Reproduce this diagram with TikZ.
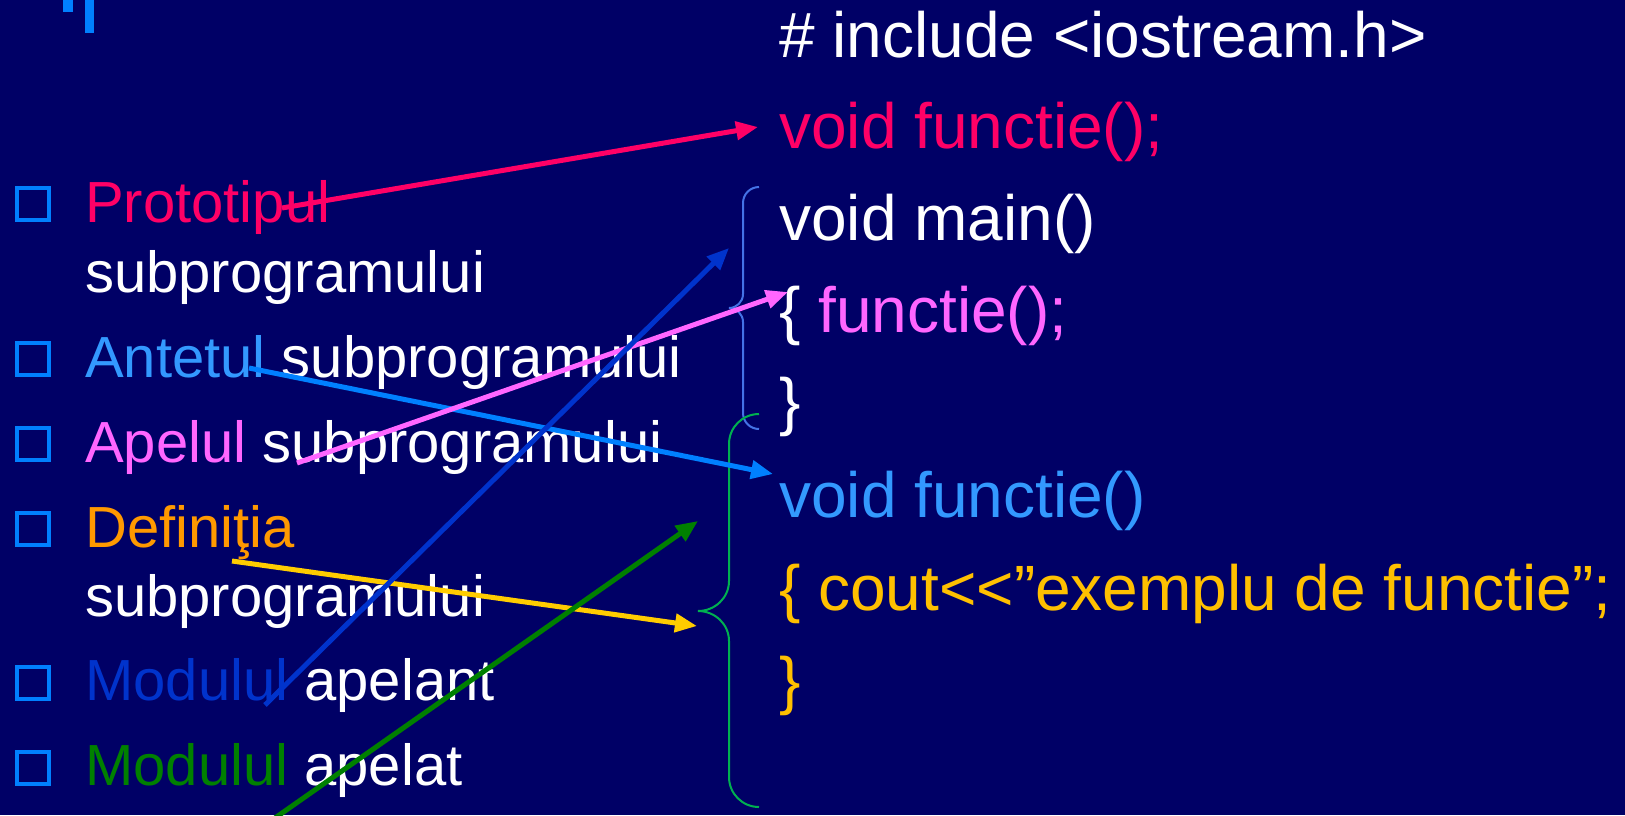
\documentclass[tikz,border=0pt]{standalone}
\usepackage{fontspec}
\setmainfont{Liberation Sans}[Ligatures=TeXOff]
\usetikzlibrary{arrows.meta}
\definecolor{slidebg}{RGB}{0, 0, 102}
\definecolor{bulletblue}{RGB}{0, 128, 255}
\definecolor{protored}{RGB}{255, 0, 102}
\definecolor{antetblue}{RGB}{51, 153, 255}
\definecolor{apelpink}{RGB}{255, 102, 255}
\definecolor{deforange}{RGB}{255, 153, 0}
\definecolor{codegold}{RGB}{255, 192, 0}
\definecolor{arrowyellow}{RGB}{255, 204, 0}
\definecolor{apelantblue}{RGB}{0, 51, 204}
\definecolor{apelatgreen}{RGB}{0, 128, 0}
\definecolor{bracegreen}{RGB}{0, 176, 80}
\definecolor{braceblue}{RGB}{68, 114, 230}

\begin{document}
\begin{tikzpicture}[
  x=1pt, y=-1pt,
  item/.style={anchor=base west, inner sep=0pt, text=white, font=\fontsize{58}{62}\selectfont},
  code/.style={anchor=base west, inner sep=0pt, text=white, font=\fontsize{64}{68}\selectfont},
  bul/.style={draw=bulletblue, line width=3.5pt, minimum size=32pt, inner sep=0pt},
  link/.style={line width=5pt, -{Triangle[length=22pt, width=18pt]}},
  brace/.style={line width=2pt}
]
  % background and slide mark
  \useasboundingbox[fill=slidebg] (0,0) rectangle (1625,815);
  \fill[bulletblue] (63,0) rectangle (73,12);
  \fill[bulletblue] (85,0) rectangle (94,33);

  % list on the left
  \node[bul] (b1) at (33,204) {};
  \node[bul] (b2) at (33,359) {};
  \node[bul] (b3) at (33,444) {};
  \node[bul] (b4) at (33,529) {};
  \node[bul] (b5) at (33,683) {};
  \node[bul] (b6) at (33,768) {};
  \node[item] (proto) at (85,222) {\color{protored}Prototipul};
  \node[item] (proto2) at (85,292) {subprogramului};
  \node[item] (antet) at (85,377) {{\color{antetblue}Antetul} subprogramului};
  \node[item] (apel) at (85,462) {{\color{apelpink}Apelul} subprogramului};
  \node[item] (def) at (85,547) {\color{deforange}Definiţia};
  \node[item] (def2) at (85,616) {subprogramului};
  \node[item] (apelant) at (85,700) {{\color{apelantblue}Modulul} apelant};
  \node[item] (apelat) at (85,785) {{\color{apelatgreen}Modulul} apelat};

  % program on the right
  \node[code] (inc) at (779,57) {\# include <iostream.h>};
  \node[code, text=protored] (proto-c) at (779,148) {void functie();};
  \node[code] (main) at (779,240) {void main()};
  \node[code] (call) at (779,332) {\{ \color{apelpink}functie();};
  \node[code] (endmain) at (779,423) {\}};
  \node[code, text=antetblue] (head) at (779,517) {void functie()};
  \node[code, text=codegold] (body) at (779,610) {\{ cout<<”exemplu de functie”;};
  \node[code, text=codegold] (endfn) at (779,702) {\}};

  % braces
  \draw[brace, braceblue] (759,187) to[out=180,in=90] (743,203) -- (743,294)
    to[out=-90,in=0] (729,308) to[out=0,in=90] (743,322) -- (743,413)
    to[out=-90,in=180] (759,429);
  \draw[brace, bracegreen] (759,414) to[out=180,in=90] (729,444) -- (729,581)
    to[out=-90,in=0] (698,611) to[out=0,in=90] (729,641) -- (729,777)
    to[out=-90,in=180] (759,807);

  % arrow ends
  \coordinate (protoS) at (282,208);
  \coordinate (protoE) at (758,127);
  \coordinate (antetS) at (249,368);
  \coordinate (antetE) at (773,474);
  \coordinate (apelS) at (297,463);
  \coordinate (apelE) at (788,292);
  \coordinate (defS) at (232,561);
  \coordinate (defE) at (697,626);
  \coordinate (apelantS) at (265,705);
  \coordinate (apelantE) at (729,248);
  \coordinate (apelatS) at (275,818);
  \coordinate (apelatE) at (698,521);

  \draw[link, protored] (protoS) -- (protoE);
  \draw[link, bulletblue] (antetS) -- (antetE);
  \draw[link, apelpink] (apelS) -- (apelE);
  \draw[link, arrowyellow] (defS) -- (defE);
  \draw[link, apelantblue] (apelantS) -- (apelantE);
  \draw[link, apelatgreen] (apelatS) -- (apelatE);
\end{tikzpicture}
\end{document}
